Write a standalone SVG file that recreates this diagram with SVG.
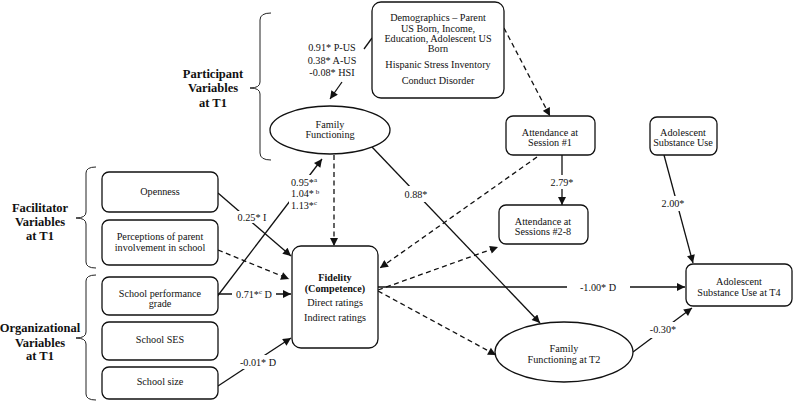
<svg xmlns="http://www.w3.org/2000/svg" width="793" height="401" viewBox="0 0 793 401">
<style>
text{font-family:"Liberation Serif","Times New Roman",serif;font-size:10.2px;fill:#111;text-anchor:middle}
.side{font-size:12.5px;font-weight:bold}
.b{font-weight:bold}
.box{fill:#fff;stroke:#111;stroke-width:1.3}
.ln{fill:none;stroke:#111;stroke-width:1.3}
.ar{marker-end:url(#ah)}
.ds{stroke-dasharray:5,3.5}
.br{fill:none;stroke:#222;stroke-width:1}
.lb{fill:#fff;stroke:none}
.st{text-anchor:start}
</style>
<defs>
<marker id="ah" viewBox="0 0 10 10" refX="10" refY="5" markerWidth="9" markerHeight="8" markerUnits="userSpaceOnUse" orient="auto">
<path d="M0,0 L10,5 L0,10 z" fill="#111"/>
</marker>
</defs>
<rect width="793" height="401" fill="#fff"/>

<g id="braces">
<path class="br" d="M271,13 Q260,13 260,20 L260,82 Q260,88 250,88 Q260,88 260,94 L260,153 Q260,160 271,160"/>
<path class="br" d="M96,167 Q86,167 86,173 L86,212 Q86,218 76,218 Q86,218 86,224 L86,262 Q86,268 96,268"/>
<path class="br" d="M96,275 Q86,275 86,281 L86,332 Q86,338 76,338 Q86,338 86,344 L86,394 Q86,400 96,400"/>
<text class="side" x="213" y="77.5">Participant</text>
<text class="side" x="213" y="92">Variables</text>
<text class="side" x="213" y="106.5">at T1</text>
<text class="side" x="40" y="211.5">Facilitator</text>
<text class="side" x="40" y="226">Variables</text>
<text class="side" x="40" y="240">at T1</text>
<text class="side" x="40" y="331.5">Organizational</text>
<text class="side" x="40" y="346.5">Variables</text>
<text class="side" x="40" y="360">at T1</text>
</g>

<g id="connectors">
<path class="ln" d="M372,38 L364,49"/>
<path class="ln ar" d="M342,82 L330,99"/>
<path class="ln ar ds" d="M504,28 L550,116"/>
<path class="ln ar ds" d="M334,155 L334,246"/>
<path class="ln ar" d="M372,147 L540,323"/>
<path class="ln ar" d="M562,155 L562,205"/>
<path class="ln ar ds" d="M537,157 L380,268"/>
<path class="ln ar ds" d="M378,290 L498,247"/>
<path class="ln ar ds" d="M378,291 L496,355"/>
<path class="ln ar" d="M378,287 L685,287"/>
<path class="ln ar" d="M664,155 L693,263"/>
<path class="ln ar" d="M633,352 L692,308"/>
<path class="ln ar" d="M218,193 L291,256"/>
<path class="ln ar ds" d="M218,250 L289,279"/>
<path class="ln ar" d="M216,298 L322,159"/>
<path class="ln ar" d="M218,294 L291,294"/>
<path class="ln ar" d="M218,386 L291,338"/>
</g>

<g id="labels">
<rect class="lb" x="305" y="40" width="55" height="36"/>
<text x="332" y="51">0.91* P-US</text>
<text x="332" y="63.5">0.38* A-US</text>
<text x="332" y="76">-0.08* HSI</text>
<rect class="lb" x="236" y="211" width="32" height="12"/>
<text x="252" y="220.5">0.25* I</text>
<rect class="lb" x="289" y="175" width="33" height="34"/>
<text class="st" x="291" y="185.5">0.95*<tspan font-size="7" dy="-3.5">a</tspan></text>
<text class="st" x="291" y="197">1.04*<tspan font-size="7" dy="-3.5"> b</tspan></text>
<text class="st" x="291" y="208.5">1.13*<tspan font-size="7" dy="-3.5">c</tspan></text>
<rect class="lb" x="232" y="287" width="44" height="13"/>
<text x="254" y="297.5">0.71*<tspan font-size="7" dy="-3.5">c</tspan><tspan dy="3.5"> D</tspan></text>
<rect class="lb" x="236" y="355" width="44" height="14"/>
<text x="258" y="365.5">-0.01* D</text>
<rect class="lb" x="403" y="186" width="27" height="16"/>
<text x="416" y="198">0.88*</text>
<rect class="lb" x="548" y="175" width="28" height="14"/>
<text x="562" y="185.5">2.79*</text>
<rect class="lb" x="567" y="280" width="63" height="14"/>
<text x="598" y="290.5">-1.00* D</text>
<rect class="lb" x="659" y="196" width="28" height="15"/>
<text x="673" y="206.5">2.00*</text>
<rect class="lb" x="648" y="322" width="30" height="16"/>
<text x="663" y="333">-0.30*</text>
</g>

<g id="demographics">
<rect class="box" x="372" y="2" width="132" height="96" rx="9"/>
<text x="438" y="21">Demographics – Parent</text>
<text x="438" y="31.5">US Born, Income,</text>
<text x="438" y="42">Education, Adolescent US</text>
<text x="438" y="51.5">Born</text>
<text x="438" y="67.5">Hispanic Stress Inventory</text>
<text x="438" y="83.5">Conduct Disorder</text>
</g>

<g id="family-functioning">
<ellipse class="box" cx="330" cy="130" rx="60" ry="24"/>
<text x="330" y="127.5">Family</text>
<text x="330" y="138">Functioning</text>
</g>

<g id="openness">
<rect class="box" x="102" y="172" width="116" height="40" rx="7"/>
<text x="160" y="194.5">Openness</text>
</g>

<g id="perceptions">
<rect class="box" x="102" y="220" width="116" height="45" rx="7"/>
<text x="160" y="240">Perceptions of parent</text>
<text x="160" y="250.5">involvement in school</text>
</g>

<g id="school-performance">
<rect class="box" x="102" y="277" width="116" height="38" rx="7"/>
<text x="160" y="296.5">School performance</text>
<text x="160" y="306.5">grade</text>
</g>

<g id="school-ses">
<rect class="box" x="102" y="322" width="116" height="38" rx="7"/>
<text x="160" y="342.5">School SES</text>
</g>

<g id="school-size">
<rect class="box" x="102" y="367" width="116" height="32" rx="7"/>
<text x="160" y="384.5">School size</text>
</g>

<g id="fidelity">
<rect class="box" x="292" y="246" width="86" height="102" rx="9"/>
<text class="b" x="335" y="280.5">Fidelity</text>
<text class="b" x="335" y="292">(Competence)</text>
<text x="335" y="305.5">Direct ratings</text>
<text x="335" y="320.5">Indirect ratings</text>
</g>

<g id="attendance-1">
<rect class="box" x="506" y="116" width="89" height="39" rx="7"/>
<text x="550" y="135.5">Attendance at</text>
<text x="550" y="145.5">Session #1</text>
</g>

<g id="attendance-2-8">
<rect class="box" x="499" y="205" width="89" height="39" rx="7"/>
<text x="543" y="224.5">Attendance at</text>
<text x="543" y="234.5">Sessions #2-8</text>
</g>

<g id="adolescent-su">
<rect class="box" x="650" y="117" width="67" height="38" rx="7"/>
<text x="683" y="136">Adolescent</text>
<text x="683" y="146">Substance Use</text>
</g>

<g id="adolescent-su-t4">
<rect class="box" x="686" y="264" width="106" height="42" rx="7"/>
<text x="739" y="284.5">Adolescent</text>
<text x="739" y="295.5">Substance Use at T4</text>
</g>

<g id="family-functioning-t2">
<ellipse class="box" cx="564" cy="352" rx="69" ry="30"/>
<text x="564" y="352">Family</text>
<text x="564" y="363">Functioning at T2</text>
</g>
</svg>
